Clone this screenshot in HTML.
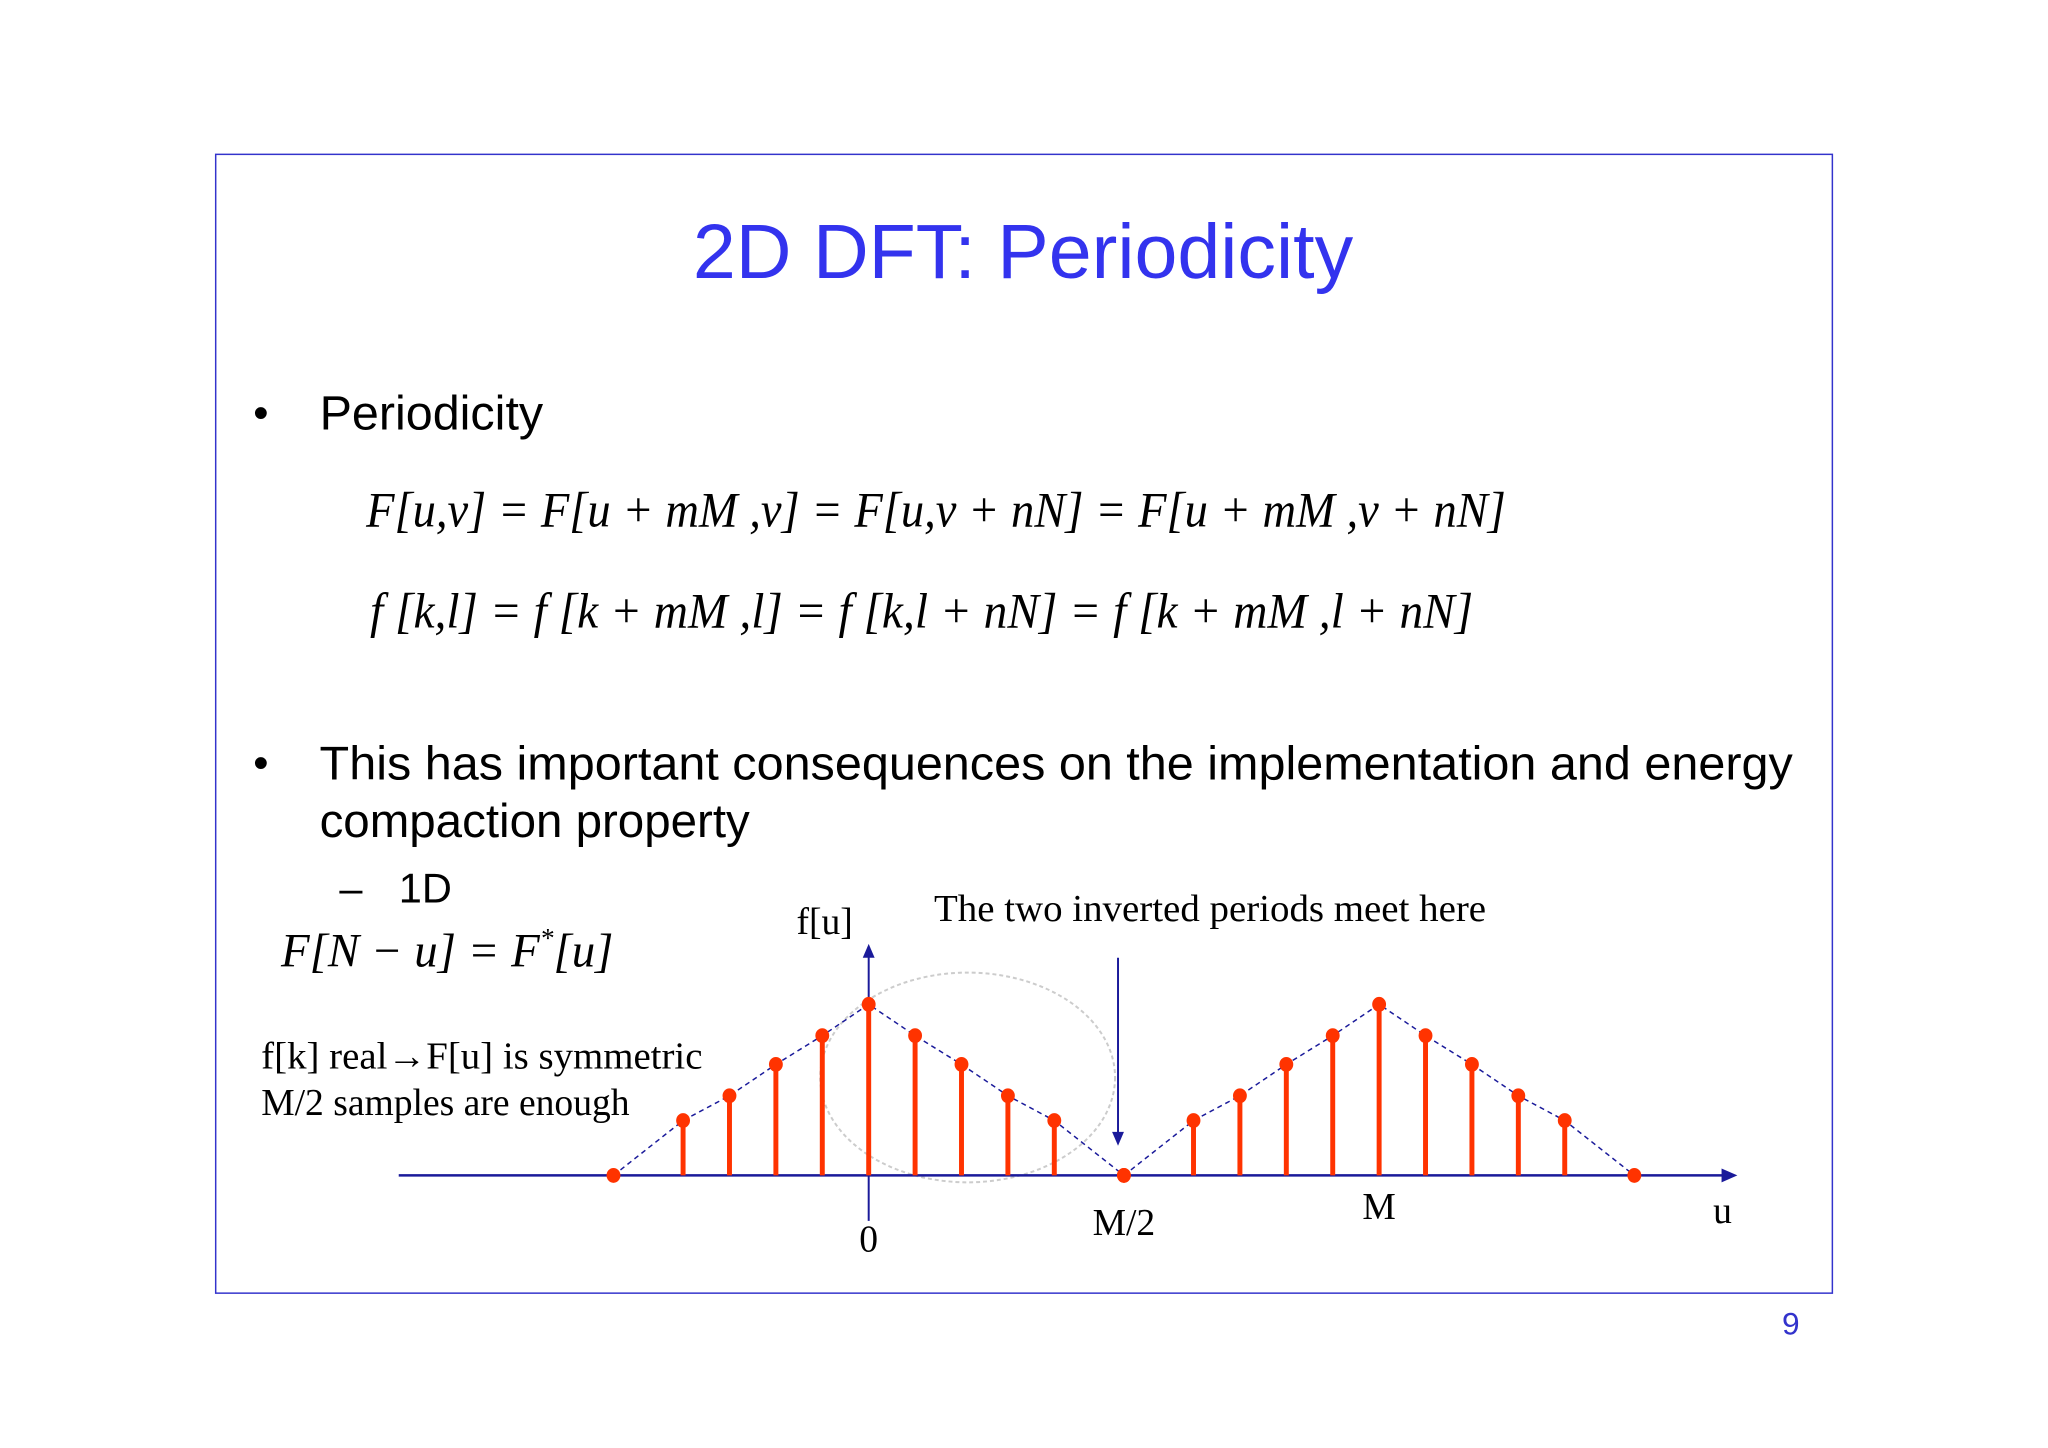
<!DOCTYPE html>
<html><head><meta charset="utf-8"><style>
html,body{margin:0;padding:0;background:#fff;}
svg{display:block;}
.ser{font-family:"Liberation Serif",serif;}
.sans{font-family:"Liberation Sans",sans-serif;}
</style></head><body>
<svg id="slide" width="2048" height="1448" viewBox="0 0 2048 1448">
<g transform="scale(0.9894)">
<rect x="218" y="156" width="1634" height="1151" fill="none" stroke="#3333cc" stroke-width="1.5"/>
<text x="1034" y="281" text-anchor="middle" class="sans" font-size="78" fill="#3333ee">2D DFT: Periodicity</text>
<text x="256" y="432" class="sans" font-size="44" fill="#000">•</text>
<text x="323" y="434" class="sans" font-size="49" fill="#000">Periodicity</text>
<text x="370" y="532" class="ser" font-style="italic" font-size="50" textLength="1152" lengthAdjust="spacingAndGlyphs">F[u,v] = F[u + mM ,v] = F[u,v + nN] = F[u + mM ,v + nN]</text>
<text x="374" y="634" class="ser" font-style="italic" font-size="50" textLength="1115" lengthAdjust="spacingAndGlyphs">f [k,l] = f [k + mM ,l] = f [k,l + nN] = f [k + mM ,l + nN]</text>
<text x="256" y="786" class="sans" font-size="44">•</text>
<text x="323" y="788" class="sans" font-size="48" textLength="1489" lengthAdjust="spacingAndGlyphs">This has important consequences on the implementation and energy</text>
<text x="323" y="846" class="sans" font-size="48">compaction property</text>
<text x="343" y="912" class="sans" font-size="42">–</text>
<text x="403" y="912" class="sans" font-size="42">1D</text>
<text x="284" y="977" class="ser" font-style="italic" font-size="48" textLength="336" lengthAdjust="spacingAndGlyphs">F[N − u] = F<tspan font-size="28" dy="-20">*</tspan><tspan dy="20">[u]</tspan></text>
<text x="264" y="1080" class="ser" font-size="38" textLength="446" lengthAdjust="spacingAndGlyphs">f[k] real→F[u] is symmetric</text>
<text x="264" y="1127" class="ser" font-size="38">M/2 samples are enough</text>
<text x="805" y="944" class="ser" font-size="38">f[u]</text>
<text x="944" y="931" class="ser" font-size="38" textLength="558" lengthAdjust="spacingAndGlyphs">The two inverted periods meet here</text>
<g id="chart"></g>
<text x="1810" y="1349" text-anchor="middle" class="sans" font-size="32" fill="#3333cc">9</text>
</g>
</svg>
<script>
const period1U = [-5.5,-4,-3,-2,-1,0,1,2,3,4,5.5];
const period2U = [5.5,7,8,9,10,11,12,13,14,15,16.5];
const periodValues = [0,42,61,85,107,131,107,85,61,42,0];
const tickLabels = ["0","M/2","M","u"];
const tickU = [0,5.5,11,18.4];

const NS="http://www.w3.org/2000/svg";
const g=document.getElementById('chart');
const X0=878, UX=46.9, Y0=1188, VY=1.32;
const sx=u=>X0+u*UX, sy=v=>Y0-v*VY;
function mk(t,a){const e=document.createElementNS(NS,t);for(const k in a)e.setAttribute(k,a[k]);g.appendChild(e);return e;}

let el=mk('ellipse',{cx:978,cy:1089,rx:149,ry:106,fill:'none',stroke:'#cccccc','stroke-width':2,'stroke-dasharray':'4 3'});


el=mk('line',{x1:403,y1:Y0,x2:1745,y2:Y0,stroke:'#1a1a9a','stroke-width':2.5});


el=mk('polygon',{points:'1756,1188 1740,1181 1740,1195',fill:'#1a1a9a'});


el=mk('line',{x1:X0,y1:1234,x2:X0,y2:965,stroke:'#1a1a9a','stroke-width':2});


el=mk('polygon',{points:'878,954 872,968 884,968',fill:'#1a1a9a'});


el=mk('line',{x1:1130,y1:968,x2:1130,y2:1145,stroke:'#1a1a9a','stroke-width':2});


el=mk('polygon',{points:'1130,1158 1124,1144 1136,1144',fill:'#1a1a9a'});



[period1U,period2U].forEach((us,p)=>{
  const pts=us.map((u,i)=>sx(u)+','+sy(periodValues[i])).join(' ');
  const env=mk('polyline',{points:pts,fill:'none',stroke:'#1a1a9a','stroke-width':1.5,'stroke-dasharray':'5 4'});
  
  
  us.forEach((u,i)=>{
    const v=periodValues[i];
    if(v>0){
      const s=mk('line',{x1:sx(u),y1:Y0,x2:sx(u),y2:sy(v),stroke:'#ff3300','stroke-width':5});
      
      
    }
    const c=mk('ellipse',{cx:sx(u),cy:sy(v),rx:7,ry:7.5,fill:'#ff3300'});
    
    
  });
});
const tickY=[1265,1248,1232,1236];
tickLabels.forEach((t,i)=>{
  const e=mk('text',{x:sx(tickU[i]),y:tickY[i],'text-anchor':'middle','font-size':38,'font-family':'"Liberation Serif",serif'});
  e.textContent=t;
  
  
});
</script>
</body></html>
